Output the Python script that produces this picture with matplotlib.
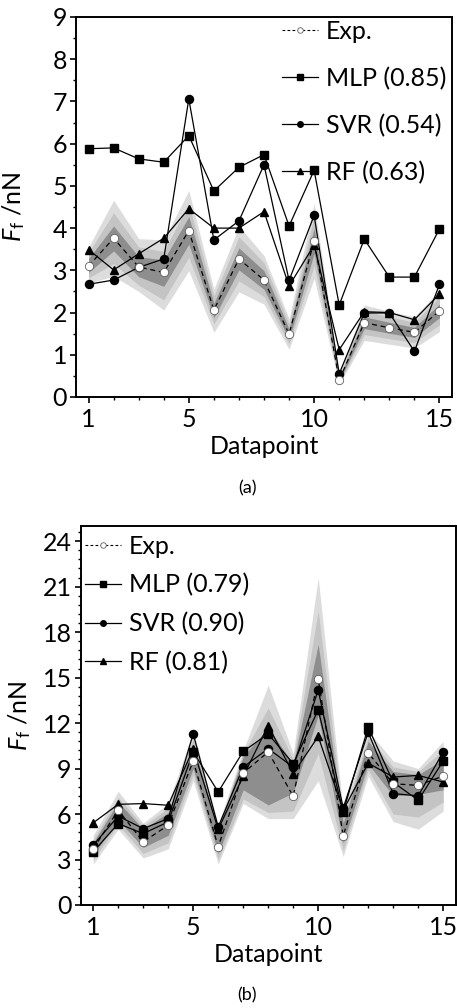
import matplotlib
matplotlib.use("Agg")
import matplotlib.pyplot as plt
from matplotlib.lines import Line2D
from matplotlib.ticker import MultipleLocator, FixedLocator

plt.rcParams['font.family'] = ['Lato', 'DejaVu Sans']
plt.rcParams['mathtext.fontset'] = 'custom'
plt.rcParams['mathtext.it'] = 'Lato:italic'
plt.rcParams['mathtext.rm'] = 'Lato'

datapoints = list(range(1, 16))

# ---------------- panel (a) ----------------
exp_a = [3.10, 3.76, 3.08, 2.95, 3.94, 2.06, 3.27, 2.77, 1.49, 3.70, 0.40, 1.76, 1.64, 1.53, 2.04]
mlp_a = [5.88, 5.90, 5.64, 5.56, 6.19, 4.88, 5.44, 5.74, 4.05, 5.37, 2.18, 3.74, 2.84, 2.84, 3.98]
svr_a = [2.67, 2.77, 3.07, 3.27, 7.06, 3.72, 4.17, 5.50, 2.76, 4.30, 0.55, 1.99, 1.99, 1.08, 2.67]
rf_a = [3.49, 3.01, 3.39, 3.76, 4.46, 4.00, 4.00, 4.39, 2.63, 3.60, 1.12, 2.02, 2.00, 1.83, 2.44]
# uncertainty bands (outer light, middle, inner dark)
light_lo_a = [2.70, 2.86, 2.50, 2.06, 2.99, 1.53, 2.49, 2.20, 1.13, 2.81, 0.30, 1.34, 1.25, 1.16, 1.55]
light_hi_a = [3.55, 4.66, 3.75, 3.72, 4.89, 2.55, 4.05, 3.35, 1.85, 4.59, 0.55, 2.18, 2.03, 1.90, 2.53]
mid_lo_a = [2.82, 3.16, 2.65, 2.30, 3.31, 1.73, 2.75, 2.38, 1.25, 3.11, 0.34, 1.48, 1.38, 1.29, 1.71]
mid_hi_a = [3.42, 4.36, 3.55, 3.45, 4.57, 2.39, 3.79, 3.18, 1.73, 4.29, 0.48, 2.04, 1.90, 1.77, 2.37]
dark_lo_a = [2.95, 3.46, 2.85, 2.62, 3.62, 1.88, 3.01, 2.55, 1.37, 3.40, 0.37, 1.62, 1.51, 1.41, 1.88]
dark_hi_a = [3.28, 4.05, 3.32, 3.25, 4.27, 2.22, 3.53, 2.99, 1.61, 4.00, 0.44, 1.90, 1.77, 1.65, 2.20]
labels_a = ['Exp.', 'MLP (0.85)', 'SVR (0.54)', 'RF (0.63)']

# ---------------- panel (b) ----------------
exp_b = [3.70, 6.25, 4.17, 5.26, 9.50, 3.84, 8.70, 10.10, 7.17, 14.91, 4.56, 10.04, 8.00, 7.89, 8.51]
mlp_b = [3.51, 5.37, 4.71, 5.48, 10.10, 7.46, 10.13, 11.29, 9.32, 12.87, 6.14, 11.73, 8.10, 6.91, 9.50]
svr_b = [3.95, 5.86, 5.04, 5.70, 11.29, 5.15, 9.10, 10.31, 9.10, 14.19, 6.40, 11.40, 7.35, 7.20, 10.09]
rf_b = [5.42, 6.64, 6.69, 6.58, 10.30, 5.00, 8.49, 11.84, 8.66, 11.12, 6.25, 9.36, 8.44, 8.55, 8.11]
light_lo_b = [2.7, 5.0, 3.1, 3.7, 8.2, 2.7, 6.7, 5.7, 5.7, 8.2, 3.2, 8.5, 5.5, 5.0, 6.2]
light_hi_b = [4.6, 7.5, 5.4, 6.7, 11.5, 5.3, 10.2, 14.5, 10.0, 21.6, 6.2, 11.5, 9.5, 9.0, 10.8]
mid_lo_b = [3.0, 5.3, 3.4, 4.1, 8.6, 3.0, 7.0, 6.1, 6.2, 10.0, 3.6, 8.9, 6.0, 5.8, 6.8]
mid_hi_b = [4.3, 7.1, 5.2, 6.4, 11.0, 5.1, 10.0, 13.0, 9.6, 19.4, 5.8, 11.1, 9.1, 8.8, 10.2]
dark_lo_b = [3.3, 5.6, 3.8, 4.6, 9.0, 3.4, 7.6, 6.6, 7.4, 12.5, 4.1, 9.3, 7.2, 7.3, 7.6]
dark_hi_b = [4.1, 6.8, 5.0, 6.1, 10.6, 5.0, 9.8, 11.7, 9.3, 17.2, 5.4, 10.8, 8.8, 8.6, 9.6]
labels_b = ['Exp.', 'MLP (0.79)', 'SVR (0.90)', 'RF (0.81)']

W, H = 457, 1008
fig = plt.figure(figsize=(W / 100, H / 100), dpi=100)

FS = 18
LIGHT, MID, DARK = '#dcdcdc', '#c4c4c4', '#8e8e8e'


def draw(ax, exp, mlp, svr, rf, bands, ylim, ymaj, ymin_step):
    llo, lhi, mlo, mhi, dlo, dhi = bands
    ax.fill_between(datapoints, llo, lhi, color=LIGHT, lw=0, zorder=1)
    ax.fill_between(datapoints, mlo, mhi, color=MID, lw=0, zorder=2)
    ax.fill_between(datapoints, dlo, dhi, color=DARK, lw=0, zorder=3)
    ax.plot(datapoints, mlp, '-', color='black', lw=0.9, marker='s', ms=5.2, zorder=5)
    ax.plot(datapoints, svr, '-', color='black', lw=0.9, marker='o', ms=5.8, zorder=6)
    ax.plot(datapoints, rf, '-', color='black', lw=0.9, marker='^', ms=6.2, zorder=7)
    ax.plot(datapoints, exp, '--', color='black', lw=0.9, dashes=(4, 3), marker='o', ms=6,
            mfc='white', mec='#606060', mew=0.6, zorder=8)
    ax.set_xlim(0.5, 15.5)
    ax.set_ylim(*ylim)
    ax.xaxis.set_major_locator(FixedLocator([1, 5, 10, 15]))
    ax.xaxis.set_minor_locator(MultipleLocator(1))
    ax.yaxis.set_major_locator(MultipleLocator(ymaj))
    ax.yaxis.set_minor_locator(MultipleLocator(ymin_step))
    ax.tick_params(which='major', direction='out', length=4.5, width=1.2, labelsize=FS, pad=2)
    ax.tick_params(axis='x', which='major', pad=3.5)
    ax.tick_params(which='minor', direction='out', length=2.5, width=1.0)
    for s in ax.spines.values():
        s.set_linewidth(1.4)
    ax.set_xlabel('Datapoint', fontsize=FS, labelpad=3)
    ax.set_ylabel(r'$F_\mathrm{f}$ /nN', fontsize=FS)


def legend(ax, labels, **kw):
    handles = [
        Line2D([], [], ls='--', dashes=(2.5, 2), color='black', lw=0.8, marker='o', ms=4,
               mfc='white', mec='#606060', mew=0.6),
        Line2D([], [], ls='-', color='black', lw=0.9, marker='s', ms=4),
        Line2D([], [], ls='-', color='black', lw=0.9, marker='o', ms=4),
        Line2D([], [], ls='-', color='black', lw=0.9, marker='^', ms=4.5),
    ]
    ax.legend(handles, labels, frameon=False, fontsize=FS, handlelength=1.45,
              handletextpad=0.3, borderaxespad=0, borderpad=0, **kw)


ax1 = fig.add_axes([76 / W, 1 - 397 / H, 376 / W, 380 / H])
draw(ax1, exp_a, mlp_a, svr_a, rf_a,
     (light_lo_a, light_hi_a, mid_lo_a, mid_hi_a, dark_lo_a, dark_hi_a),
     (0, 9), 1, 0.5)
ax1.yaxis.set_label_coords(-0.13, 0.5)
legend(ax1, labels_a, loc='upper right', bbox_to_anchor=(0.985, 0.992), labelspacing=0.95)

ax2 = fig.add_axes([80.7 / W, 1 - 905 / H, 375 / W, 379 / H])
draw(ax2, exp_b, mlp_b, svr_b, rf_b,
     (light_lo_b, light_hi_b, mid_lo_b, mid_hi_b, dark_lo_b, dark_hi_b),
     (0, 25), 3, 0.6)
ax2.yaxis.set_label_coords(-0.127, 0.5)
legend(ax2, labels_b, loc='upper left', bbox_to_anchor=(0.011, 0.977), labelspacing=0.62)

fig.text(247 / W, 1 - 488 / H, '(a)', ha='center', va='center', fontsize=13)
fig.text(247 / W, 1 - 995 / H, '(b)', ha='center', va='center', fontsize=13)

fig.savefig('out.png', dpi=100)
